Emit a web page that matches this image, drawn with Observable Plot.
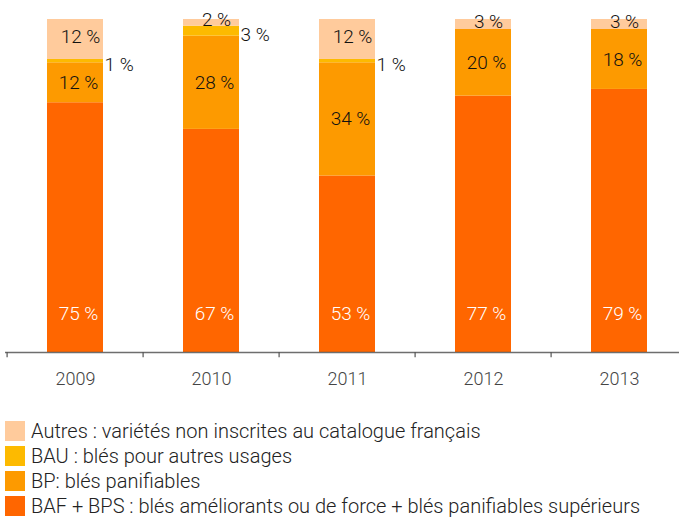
<!DOCTYPE html>
<html><head><meta charset="utf-8">
<script src="https://cdn.jsdelivr.net/npm/d3@7"></script>
<script src="https://cdn.jsdelivr.net/npm/@observablehq/plot@0.6"></script>
<style>
body{margin:0;overflow:hidden;background:#fff;font-family:Roboto,sans-serif;font-weight:300;}
#chart{width:679px;overflow:hidden;height:400px}
#legend{margin-top:18px;margin-left:5px;color:#222;font-size:20px}
.row{display:flex;align-items:center;height:25px}
.sw{width:20px;height:20px;margin-right:6px;flex:none}
</style></head><body>
<div id="chart"></div><div id="legend"></div>
<script>
const years = ["2009","2010","2011","2012","2013"];
const categories = ["BAF + BPS","BP","BAU","Autres"];
const baf = [75,67,53,77,79];
const bp = [12,28,34,20,18];
const bau = [1,3,1,0,0];
const autres = [12,2,12,3,3];
const legendLabels = [
  "Autres : variétés non inscrites au catalogue français",
  "BAU : blés pour autres usages",
  "BP: blés panifiables",
  "BAF + BPS : blés améliorants ou de force + blés panifiables supérieurs"
];
const colors = ["#FF6600","#FD9A00","#FDBA00","#FFCB9C"];
const series = [baf,bp,bau,autres];

const rows = [];
years.forEach((yr,i)=>{
  let acc = 0;
  series.forEach((s,k)=>{
    rows.push({year:yr, cat:categories[k], value:s[i], y1:acc, y2:acc+s[i]});
    acc += s[i];
  });
});

const W = 689, ML = 5;
const step = (W-ML)/years.length;
const font = 'Roboto,sans-serif';

const bafLabels = rows.filter(d=>d.cat==="BAF + BPS");
const bpLabels = rows.filter(d=>d.cat==="BP");
const bauLabels = rows.filter(d=>d.cat==="BAU" && d.value>0);
const autLabels = rows.filter(d=>d.cat==="Autres");
const lab = {fontSize:19, fontWeight:300};

const chart = Plot.plot({
  width: W, height: 400,
  marginLeft: ML, marginRight: 0, marginTop: 19, marginBottom: 48,
  style:{fontFamily:font, fontSize:"17px", fontWeight:300, color:"#333", background:"#fff", maxWidth:"none"},
  x:{domain:years, paddingInner:0.59, paddingOuter:0.295, label:null},
  y:{domain:[0,100], axis:null},
  color:{domain:categories, range:colors},
  marks:[
    Plot.barY(rows,{x:"year", y1:"y1", y2:"y2", fill:"cat"}),
    Plot.ruleY([0],{stroke:"#555", strokeWidth:1.5, strokeOpacity:0.85}),
    Plot.ruleX(years,{x:d=>d, y1:0, y2:-1.6, dx:-step/2, stroke:"#555", strokeWidth:1.2}),
    Plot.axisX({tickSize:0, tickPadding:20, fontSize:18, fill:"#444", label:null}),
    Plot.text(bafLabels,{x:"year", y:()=>11.5, text:d=>d.value+" %", fill:"#fff", ...lab, dx:3}),
    Plot.text(bpLabels,{x:"year", y:d=>(d.y1+d.y2)/2, text:d=>d.value+" %", fill:"#111", ...lab, dx:3}),
    Plot.text(bauLabels,{x:"year", y:d=>(d.y1+d.y2)/2, text:d=>d.value+" %", fill:"#111", ...lab, dx:29, dy:4, textAnchor:"start"}),
    Plot.text(autLabels,{x:"year", y:d=>(d.y1+d.y2)/2, text:d=>d.value+" %", fill:"#111", ...lab, dx:5, dy:-3})
  ]
});
document.getElementById("chart").appendChild(chart);

const leg = document.getElementById("legend");
[3,2,1,0].forEach((k,j)=>{
  const r = document.createElement("div"); r.className="row";
  const s = document.createElement("div"); s.className="sw"; s.style.background=colors[k];
  const t = document.createElement("span"); t.textContent = legendLabels[j];
  r.appendChild(s); r.appendChild(t); leg.appendChild(r);
});
</script>
</body></html>
